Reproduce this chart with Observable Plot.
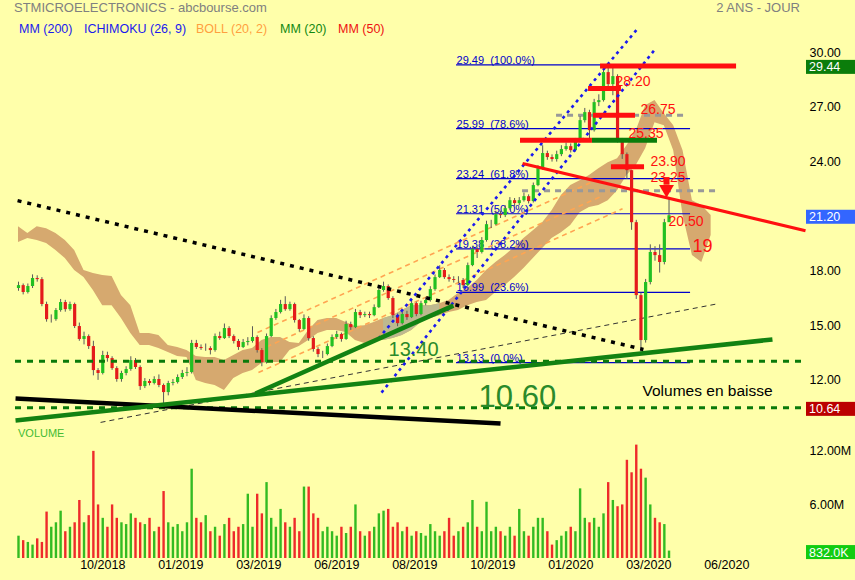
<!DOCTYPE html>
<html><head><meta charset="utf-8">
<script src="https://cdn.jsdelivr.net/npm/d3@7"></script>
<script src="https://cdn.jsdelivr.net/npm/@observablehq/plot@0.6"></script>
<style>
body{margin:0;background:#ffffaa;font-family:"Liberation Sans",Arial,sans-serif;}
#wrap{position:relative;width:855px;height:580px;overflow:hidden;background:#ffffaa}
.t{position:absolute;white-space:nowrap;line-height:1}
#price{position:absolute;left:0;top:0}
#vol{position:absolute;left:0;top:425px}
</style></head><body>
<div id="wrap">
 <div id="price"></div><div id="vol"></div>
 <div class="t" style="left:14px;top:1px;font-size:13px;color:#808080">STMICROELECTRONICS - abcbourse.com</div>
 <div class="t" style="right:55px;top:1px;font-size:13px;color:#808080">2 ANS - JOUR</div>
 <div class="t" style="left:19px;top:23px;font-size:12.5px;color:#1a1aee">MM (200)</div>
 <div class="t" style="left:84px;top:23px;font-size:12.5px;color:#1a1aee">ICHIMOKU (26, 9)</div>
 <div class="t" style="left:196px;top:23px;font-size:12.5px;color:#ffa040">BOLL (20, 2)</div>
 <div class="t" style="left:280px;top:23px;font-size:12.5px;color:#118811">MM (20)</div>
 <div class="t" style="left:338px;top:23px;font-size:12.5px;color:#ee1111">MM (50)</div>
 <div class="t" style="left:18px;top:428px;font-size:11px;color:#44bb33">VOLUME</div>
</div>
<script>
// ---- candles: one candle per 3 trading days ----
const firstOpen = 17.20;
const closes = [17.36,16.98,17.31,17.75,17.69,16.32,15.49,15.49,15.99,16.43,
16.04,16.32,15.11,14.40,14.56,14.01,12.69,12.53,13.52,13.35,
12.80,12.20,12.53,12.75,13.24,12.86,11.81,12.09,11.98,12.20,
11.87,11.48,11.98,12.03,12.31,12.53,12.58,14.18,13.96,13.90,
13.90,13.79,14.56,14.45,15.00,14.56,14.29,13.96,14.23,14.29,
14.51,13.79,13.13,14.56,15.55,15.88,16.32,16.04,16.32,15.44,
14.95,15.55,14.45,13.85,13.57,13.57,14.01,14.51,14.67,14.40,
15.22,15.05,15.88,15.71,15.77,15.71,16.15,17.09,17.31,16.65,
15.71,15.27,15.77,15.60,16.37,15.77,16.37,16.54,17.14,17.80,
18.19,17.80,17.69,17.64,17.64,17.36,18.46,19.34,19.18,19.84,
20.71,20.71,21.26,21.21,21.59,22.03,21.87,22.03,22.25,21.98,
22.86,23.79,24.62,24.40,24.29,24.56,24.84,25.00,24.78,25.27,
26.43,26.87,25.88,27.42,27.53,29.07,28.41,28.85,25.33,24.56,
23.68,20.82,16.81,14.34,17.53,19.18,19.01,18.63,20.82,21.20];
const highs = [17.55,17.45,17.45,17.95,17.90,17.80,16.45,15.75,16.10,16.60,
16.55,16.45,16.40,15.30,14.80,14.65,14.30,12.80,13.75,13.70,
13.45,12.90,12.65,12.90,13.45,13.35,12.95,12.25,12.20,12.35,
12.45,11.95,12.10,12.20,12.45,12.70,12.85,14.35,14.35,14.10,
14.15,14.00,14.70,14.80,15.25,15.10,14.65,14.40,14.40,14.50,
15.10,14.60,13.90,14.70,15.70,16.05,16.55,16.75,16.45,16.40,
15.50,15.75,15.65,14.55,13.95,13.75,14.15,14.65,14.85,14.75,
15.40,15.35,16.05,16.00,15.90,15.90,16.30,17.20,17.55,17.40,
16.75,15.80,15.90,15.95,16.55,16.45,16.50,16.70,17.30,17.95,
18.45,18.30,17.95,17.85,17.85,17.75,18.60,19.50,19.45,20.00,
20.90,20.95,21.45,21.45,21.75,22.20,22.15,22.20,22.45,22.35,
23.00,23.95,25.05,24.75,24.55,24.75,25.05,25.20,25.15,25.45,
26.65,27.10,27.00,27.60,27.85,29.49,29.45,29.30,28.95,25.45,
24.65,23.70,20.95,16.95,17.70,19.60,19.50,19.60,21.00,22.20];
const lows = [17.05,16.85,16.90,17.20,17.55,16.20,15.35,15.30,15.40,15.90,
15.90,15.95,15.00,14.30,14.10,13.85,12.40,12.15,12.45,13.15,
12.70,12.05,12.05,12.40,12.65,12.75,11.60,11.70,11.85,11.90,
11.75,10.75,11.30,11.85,11.95,12.20,12.35,12.50,13.85,13.80,
13.75,13.55,13.70,14.35,14.40,14.45,14.15,13.80,13.90,14.05,
14.20,13.65,12.90,13.05,14.50,15.45,15.80,15.95,15.95,15.30,
14.80,14.90,14.30,13.70,13.40,13.35,13.50,13.95,14.40,14.25,
14.35,14.90,15.00,15.55,15.60,15.55,15.65,16.10,17.00,16.55,
15.55,15.10,15.20,15.45,15.55,15.65,15.70,16.25,16.45,17.05,
17.75,17.70,17.55,17.50,17.45,17.20,17.30,18.40,18.85,19.10,
19.75,20.50,20.65,21.05,21.10,21.50,21.70,21.75,21.95,21.85,
21.90,22.80,23.70,24.25,24.15,24.15,24.45,24.75,24.65,24.70,
25.20,26.30,25.30,25.80,27.20,27.45,28.10,27.80,25.20,24.30,
23.20,20.40,16.60,13.70,14.20,17.40,18.70,18.05,18.50,20.90];
const volumes = [2.5,2.0,1.8,1.5,2.2,1.8,5.2,3.5,4.0,5.3,
3.0,3.5,4.0,6.5,4.0,4.8,12.0,6.0,4.5,3.5,
6.0,4.5,4.0,3.8,5.0,4.5,4.0,3.8,4.5,3.0,
3.5,7.5,4.0,3.5,3.8,3.0,4.0,10.0,4.5,4.0,
4.8,3.0,3.5,2.5,3.8,4.5,3.0,3.5,3.8,7.2,
3.5,7.2,5.0,8.5,4.5,3.5,5.5,4.0,3.5,4.5,
3.0,8.0,8.0,5.0,4.5,3.0,3.5,3.0,2.5,3.5,
2.8,3.5,6.0,3.0,2.5,3.0,3.5,5.0,5.3,5.5,
3.5,4.0,3.0,3.5,2.5,3.0,2.8,2.5,3.8,3.0,
2.5,3.0,4.5,2.5,3.0,3.5,4.0,6.5,3.5,3.0,
6.3,3.0,3.5,3.0,2.5,3.5,2.5,5.5,3.0,2.5,
3.5,4.5,4.5,3.0,1.5,2.0,2.5,3.0,3.5,3.0,
7.8,4.5,4.0,4.5,3.5,5.0,8.5,6.5,5.8,6.0,
11.0,9.6,12.7,10.0,9.0,6.0,4.5,4.0,3.8,0.83];

// ---- Ichimoku cloud (one point per 6 trading days) ----
const cloudTop = [20.60,20.22,20.60,20.49,20.22,19.84,19.29,18.19,18.02,17.91,
17.86,16.81,16.26,14.73,14.73,14.62,14.07,13.96,13.79,13.46,
13.41,13.41,13.24,13.52,13.79,13.90,14.34,14.51,14.51,14.23,
14.18,14.89,15.44,15.55,15.55,15.33,15.11,15.16,15.33,15.55,
15.71,15.99,16.26,16.26,16.26,16.37,16.54,16.92,17.20,17.64,
18.19,18.63,19.01,19.45,19.95,20.38,20.82,21.48,22.31,22.86,
23.13,23.41,23.79,24.12,24.34,25.05,25.88,27.25,27.53,26.81,
26.15,24.78,22.03,21.76,21.21];
const cloudBottom = [19.73,19.95,19.84,19.67,19.29,18.85,18.19,17.80,17.09,16.26,
16.26,15.55,14.73,14.07,14.07,13.90,13.68,13.46,13.41,12.14,
11.98,11.87,11.59,12.25,12.53,12.69,13.08,13.13,13.13,13.79,
14.01,14.34,14.73,14.89,14.89,14.78,14.34,14.18,14.34,14.34,
14.45,14.62,14.89,15.33,15.55,15.71,15.88,15.99,16.26,16.43,
16.54,16.98,17.36,17.80,18.30,18.85,19.40,19.95,20.27,20.66,
21.37,21.65,21.76,22.03,22.58,23.41,23.96,24.89,26.32,26.15,
24.78,21.21,19.01,18.63,20.11];
const bearCloud = [39,45]; // range of cloud points drawn in grey

// ---- axes ----
const priceTicks = [12,15,18,24,27,30];
const volumeTicks = [6,12];
const tickIndex = [54,104,154,204,254,304,354,404,454];
const tickLabels = ["10/2018","01/2019","03/2019","06/2019","08/2019","10/2019","01/2020","03/2020","06/2020"];
const xDomain = [-1.92, 503.2];

// ---- Fibonacci retracement ----
const fibLevels = [29.49,25.99,23.24,21.31,19.38,16.99,13.13];
const fibPct = ["100.0","78.6","61.8","50.0","38.2","23.6","0.0"];
const fibRange = [280.8, 430.8];

// ---- drawn analysis objects (index, price) ----
const blackDotted = [{i1:-0.6,p1:22.03,i2:400.6,p2:13.85}];
const blackSolid = [{i1:-1.9,p1:11.15,i2:309,p2:9.78}];
const greenTrends = [{i1:-1.9,p1:9.95,i2:483.3,p2:14.40},{i1:151.9,p1:11.43,i2:278.8,p2:16.26}];
const thinDashed = [{i1:52.6,p1:9.84,i2:448.7,p2:16.37}];
const blueChannel = [{i1:230.8,p1:14.45,i2:396.8,p2:31.48},{i1:232.7,p1:11.48,i2:408.3,p2:30.38}];
const orangeLines = [{i1:153.2,p1:14.78,i2:366.7,p2:23.02},{i1:153.8,p1:13.79,i2:373.1,p2:22.25},{i1:153.8,p1:12.58,i2:387.2,p2:21.59}];
const redTrend = [{i1:323.1,p1:24.07,i2:504.5,p2:20.38}];
const redLevels = [{p:29.44,i1:373.1,i2:460.3},{p:28.20,i1:365.4,i2:386.5},{p:26.72,i1:368.6,i2:395.5},{p:25.35,i1:321.8,i2:367.9},{p:23.90,i1:380.1,i2:401.3}];
const greenLevels = [{p:25.35,i1:367.9,i2:409.6}];
const greyLevels = [{p:26.72,i1:344.9,i2:429.5},{p:22.58,i1:323.1,i2:448.7}];
const greenDottedLevels = [13.2,10.64];
const arrowDown = [{i:415.4,top:23.30,bottom:22.88,head:22.66}];
const redLabels = [{i:382.7,p:28.57,t:"28.20"},{i:398.7,p:27.03,t:"26.75"},{i:391.0,p:25.71,t:"25.35"},{i:405.1,p:24.20,t:"23.90"},{i:405.1,p:23.30,t:"23.25"},{i:416.7,p:20.88,t:"20.50"}];
const bigRedLabel = [{i:432.1,p:19.51,t:"19"}];
const greenLabels = [{i:237.2,p:13.85,t:"13.40"}];
const bigGreenLabel = [{i:294.9,p:11.21,t:"10.60"}];
const noteLabel = [{i:400.0,p:11.59,t:"Volumes en baisse"}];
const priceTags = [{v:29.44,t:"29.44",bg:"#0b7d0b"},{v:21.20,t:"21.20",bg:"#3366ff"},{v:10.64,t:"10.64",bg:"#bb0000"}];
const volTags = [{v:0.832,t:"832.0K",bg:"#11cc11"}];

// ---- build tables ----
const candles = closes.map((c,k)=>({i:k*3,o:k?closes[k-1]:firstOpen,c,h:highs[k],l:lows[k],v:volumes[k]}));
const cloud = cloudTop.map((hi,j)=>({i:j*6,hi,lo:cloudBottom[j],bear:j>=bearCloud[0]&&j<=bearCloud[1]}));
const fibs = fibLevels.map((p,k)=>({p,label:p.toFixed(2)+"\u00a0\u00a0("+fibPct[k]+"%)"}));
const tickMap = new Map(tickIndex.map((d,k)=>[d,tickLabels[k]]));
const up = d=>d.c>=d.o;
const font = "Liberation Sans, Arial, sans-serif";
const lk = (data,o)=>Plot.link(data,{x1:"i1",y1:"p1",x2:"i2",y2:"p2",...o});

const price = Plot.plot({
  width:855,height:425,marginLeft:15,marginRight:52,marginTop:37,marginBottom:6,
  x:{domain:xDomain,axis:null},
  y:{domain:[10,31],axis:null},
  style:{background:"none",fontFamily:font,fontSize:"12.5px",color:"#000",overflow:"visible"},
  marks:[
    Plot.areaY(cloud,{x:"i",y1:"lo",y2:"hi",fill:"#d6a96f",curve:"linear"}),
    Plot.areaY(cloud.filter(d=>d.bear),{x:"i",y1:"lo",y2:"hi",fill:"#bdb98f",curve:"linear"}),
    Plot.ruleY(fibs,{y:"p",x1:fibRange[0],x2:fibRange[1],stroke:"#0000cc",strokeWidth:1.2}),
    Plot.text(fibs,{x:fibRange[0],y:"p",text:"label",textAnchor:"start",lineAnchor:"bottom",dy:-1,fill:"#0000cc",fontSize:11}),
    lk(orangeLines,{stroke:"#ffa552",strokeWidth:1.6,strokeDasharray:"5 4"}),
    lk(thinDashed,{stroke:"#333",strokeWidth:1,strokeDasharray:"5 4"}),
    Plot.ruleY(greyLevels,{y:"p",x1:"i1",x2:"i2",stroke:"#999",strokeWidth:3,strokeDasharray:"6 5"}),
    Plot.ruleX(candles,{x:"i",y1:"l",y2:"h",stroke:"#5a5a5a",strokeWidth:1}),
    Plot.ruleX(candles,{x:"i",y1:"o",y2:"c",stroke:d=>up(d)?"#22c022":"#e41b1b",strokeWidth:3.2}),
    Plot.ruleY(greenDottedLevels,{x1:xDomain[0],x2:xDomain[1],stroke:"#0a7a0a",strokeWidth:3,strokeDasharray:"6 6"}),
    lk(blueChannel,{stroke:"#1a1aee",strokeWidth:2.6,strokeDasharray:"3 4"}),
    lk(blackSolid,{stroke:"#000",strokeWidth:4.5}),
    lk(greenTrends,{stroke:"#128212",strokeWidth:4.5}),
    lk(blackDotted,{stroke:"#000",strokeWidth:3.5,strokeDasharray:"4 6"}),
    lk(redTrend,{stroke:"#ff1010",strokeWidth:3.2}),
    Plot.ruleY(redLevels,{y:"p",x1:"i1",x2:"i2",stroke:"#ff0f0f",strokeWidth:5}),
    Plot.ruleY(greenLevels,{y:"p",x1:"i1",x2:"i2",stroke:"#0b7d0b",strokeWidth:5}),
    Plot.ruleX(arrowDown,{x:"i",y1:"top",y2:"bottom",stroke:"#ff1010",strokeWidth:6}),
    Plot.dot(arrowDown,{x:"i",y:"head",symbol:"triangle",rotate:180,r:5.5,fill:"#ff1010",stroke:"none"}),
    Plot.text(redLabels,{x:"i",y:"p",text:"t",textAnchor:"start",fill:"#ff1010",fontSize:14}),
    Plot.text(bigRedLabel,{x:"i",y:"p",text:"t",textAnchor:"start",fill:"#ff1010",fontSize:18}),
    Plot.text(greenLabels,{x:"i",y:"p",text:"t",textAnchor:"start",fill:"#2a8a2a",fontSize:20}),
    Plot.text(bigGreenLabel,{x:"i",y:"p",text:"t",textAnchor:"start",fill:"#2a8a2a",fontSize:31}),
    Plot.text(noteLabel,{x:"i",y:"p",text:"t",textAnchor:"start",fill:"#000",fontSize:15.5}),
    Plot.axisY({anchor:"right",ticks:priceTicks,tickFormat:d3.format(".2f"),tickSize:0,tickPadding:6,dy:-3,label:null})
  ]
});
document.getElementById("price").appendChild(price);

const vol = Plot.plot({
  width:855,height:155,marginLeft:15,marginRight:52,marginTop:8,marginBottom:22,
  x:{domain:xDomain,label:null},
  y:{domain:[0,14],axis:null,label:null},
  style:{background:"none",fontFamily:font,fontSize:"12.5px",color:"#000",overflow:"visible"},
  marks:[
    Plot.ruleX(candles,{x:"i",y1:0,y2:"v",stroke:d=>up(d)?"#33bb22":"#ee2a2a",strokeWidth:2.4}),
    Plot.axisY({anchor:"right",ticks:volumeTicks,tickFormat:d=>d.toFixed(2)+"M",tickSize:0,tickPadding:6,label:null}),
    Plot.axisX({ticks:tickIndex,tickFormat:d=>tickMap.get(d),tickSize:0,tickPadding:2,label:null})
  ]
});
document.getElementById("vol").appendChild(vol);

function addTags(chart,tags){
  const y = chart.scale("y");
  const g = d3.select(chart).append("g").attr("text-anchor","start");
  for (const t of tags){
    const yy = y.apply(t.v) + 1.5;
    g.append("rect").attr("x",806).attr("y",yy-7).attr("width",49).attr("height",14).attr("fill",t.bg);
    g.append("text").attr("x",809).attr("y",yy).attr("dy","0.36em").attr("fill","#fff")
      .attr("text-anchor","start").attr("font-size",12.5).attr("font-family",font).text(t.t);
  }
}
addTags(price,priceTags);
addTags(vol,volTags);
</script>
</body></html>
